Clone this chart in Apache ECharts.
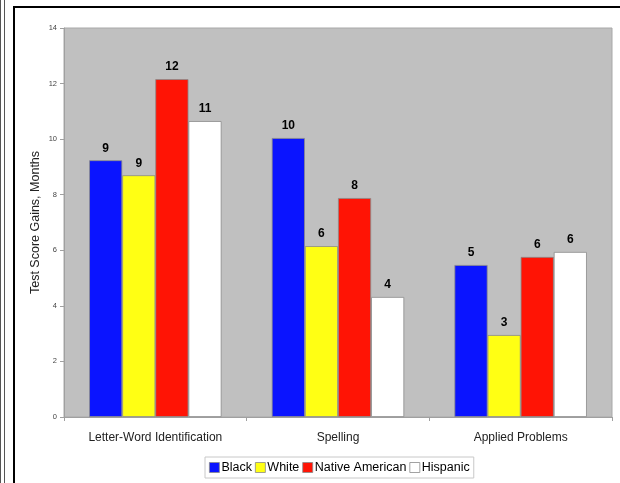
<!DOCTYPE html>
<html>
<head>
<meta charset="utf-8">
<script src="https://cdn.jsdelivr.net/npm/echarts@6/dist/echarts.min.js"></script>
<style>
  html, body { margin: 0; padding: 0; background: #fff; }
  #frame { position: absolute; left: 13px; top: 6px; width: 607px; height: 477px;
           border-left: 2px solid #000; border-top: 2px solid #000; }
  #edge { position: absolute; left: 0; top: 0; width: 3px; height: 483px;
          border-left: 1px solid #555; border-right: 1px solid #555; }
  #chart { position: absolute; left: 0; top: 0; width: 620px; height: 483px; }
</style>
</head>
<body>
<div id="edge"></div>
<div id="frame"></div>
<div id="chart"></div>
<script>
// 数据
var categories = ['Letter-Word Identification', 'Spelling', 'Applied Problems'];
var seriesNames = ['Black', 'White', 'Native American', 'Hispanic'];
var black = [9.24, 10.04, 5.47];
var white = [8.7, 6.15, 2.95];
var nativeAmerican = [12.16, 7.88, 5.76];
var hispanic = [10.65, 4.32, 5.94];
var colors = ['#0a14ff', '#ffff14', '#ff1405', '#ffffff'];

var chart = echarts.init(document.getElementById('chart'));

function makeSeries(name, data, color) {
    return {
        name: name,
        type: 'bar',
        data: data,
        barGap: '0%',
        barCategoryGap: '27.5%',
        itemStyle: { color: color, borderColor: '#8a8a8a', borderWidth: 0.8 },
        label: {
            show: true,
            position: 'top',
            distance: 6,
            fontFamily: 'Liberation Sans',
            fontWeight: 'bold',
            fontSize: 12,
            color: '#000',
            formatter: function (p) { return Math.round(p.value); }
        }
    };
}

var option = {
    animation: false,
    textStyle: { fontFamily: 'Liberation Sans' },
    grid: {
        left: 64, right: 8, top: 28, bottom: 66,
        show: true,
        backgroundColor: '#c0c0c0',
        borderColor: '#a8a8a8',
        borderWidth: 1
    },
    legend: {
        bottom: 5,
        left: 205,
        data: seriesNames,
        icon: 'rect',
        itemWidth: 10,
        itemHeight: 10,
        itemGap: 3,
        padding: [4, 4],
        borderColor: '#c8c8c8',
        borderWidth: 1,
        textStyle: { fontSize: 12.5, color: '#000', padding: [0, 0, 0, -3] },
        itemStyle: { borderColor: '#8a8a8a', borderWidth: 0.8 }
    },
    xAxis: {
        type: 'category',
        data: categories,
        axisLine: { lineStyle: { color: '#a0a0a0' } },
        axisTick: { show: true, length: 4, lineStyle: { color: '#a0a0a0' } },
        axisLabel: { fontSize: 12, color: '#222', margin: 15 }
    },
    yAxis: {
        type: 'value',
        min: 0,
        max: 14,
        interval: 2,
        name: 'Test Score Gains, Months',
        nameLocation: 'middle',
        nameGap: 22,
        nameMoveOverlap: false,
        nameTextStyle: { fontSize: 12.5, color: '#222' },
        axisLine: { show: true, lineStyle: { color: '#a0a0a0' } },
        axisTick: { show: true, length: 4, lineStyle: { color: '#a0a0a0' } },
        axisLabel: { fontSize: 7.5, color: '#444', margin: 7 },
        splitLine: { show: false }
    },
    series: [
        makeSeries(seriesNames[0], black, colors[0]),
        makeSeries(seriesNames[1], white, colors[1]),
        makeSeries(seriesNames[2], nativeAmerican, colors[2]),
        makeSeries(seriesNames[3], hispanic, colors[3])
    ]
};

chart.setOption(option);
</script>
</body>
</html>
